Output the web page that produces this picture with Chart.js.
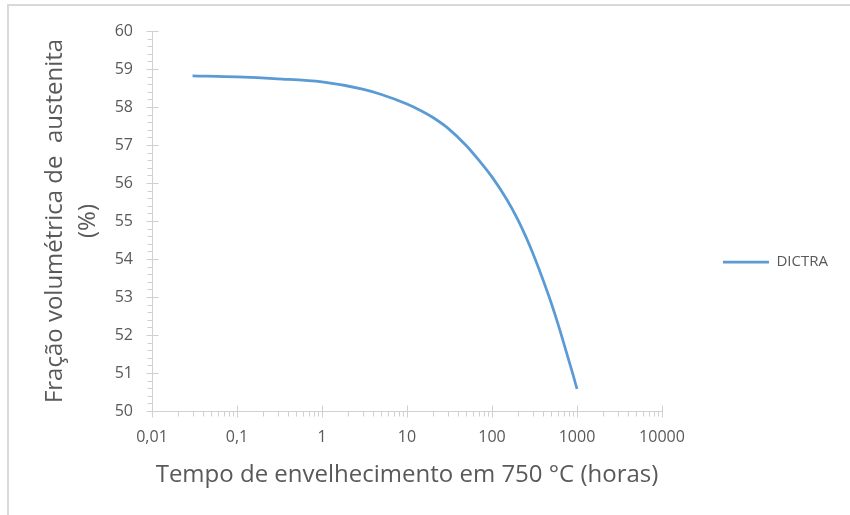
<!DOCTYPE html>
<html>
<head>
<meta charset="utf-8">
<script src="https://cdn.jsdelivr.net/npm/chart.js@4.4.1/dist/chart.umd.min.js"></script>
<style>
  html, body { margin: 0; padding: 0; background: #fff; overflow: hidden; }
  #wrap { position: relative; width: 850px; height: 515px; }
  #frame { position: absolute; left: 7px; top: 4px; width: 870px; height: 540px;
           border: 2px solid #d9d9d9; box-sizing: border-box; }
  #c { position: absolute; left: 0; top: 0; }
</style>
</head>
<body>
<div id="wrap">
  <div id="frame"></div>
  <canvas id="c" width="850" height="515"></canvas>
</div>
<script>
// Aging time at 750 °C (hours) and austenite volume fraction (%) computed by DICTRA
const hours = [0.03, 0.1, 0.3, 1, 3, 5, 10, 15, 20, 30, 50, 70, 100, 150, 200, 250, 300, 400, 500, 600, 700, 800, 900, 1000];
const austenite = [58.82, 58.79, 58.74, 58.66, 58.47, 58.33, 58.08, 57.89, 57.73, 57.45, 56.98, 56.6, 56.16,
                   55.56, 55.05, 54.59, 54.17, 53.44, 52.83, 52.28, 51.78, 51.34, 50.95, 50.58];
const seriesName = 'DICTRA';

// Axis ticks
const xTickValues = [0.01, 0.1, 1, 10, 100, 1000, 10000];
const xTickLabels = ['0,01', '0,1', '1', '10', '100', '1000', '10000'];
const yMin = 50, yMax = 60, yStep = 1, yMinorStep = 0.2;

const FONT = "'Open Sans', 'DejaVu Sans', sans-serif";
const TEXT = '#595959';
const AXIS = '#d0d0d0';
const LINE = '#5b9bd5';

// Axis lines with Excel-style tick marks: major ticks cross the axis, minor ticks sit outside
const axisTicks = {
  id: 'axisTicks',
  afterDatasetsDraw(chart) {
    const { ctx } = chart;
    const xs = chart.scales.x, ys = chart.scales.y;
    const x0 = Math.round(xs.getPixelForValue(xs.min)) + 0.5;
    const y0 = Math.round(ys.getPixelForValue(ys.min)) + 0.5;
    ctx.save();
    ctx.strokeStyle = AXIS;
    ctx.lineWidth = 1;
    ctx.beginPath();
    ctx.moveTo(x0, Math.round(ys.top)); ctx.lineTo(x0, y0);
    ctx.moveTo(x0, y0); ctx.lineTo(Math.round(xs.right) + 0.5, y0);
    xTickValues.forEach((v, i) => {
      const px = Math.round(xs.getPixelForValue(v)) + 0.5;
      ctx.moveTo(px, y0 - 6); ctx.lineTo(px, y0 + 6);
      if (i < xTickValues.length - 1) {
        for (let k = 2; k <= 9; k++) {
          const mx = Math.round(xs.getPixelForValue(v * k)) + 0.5;
          ctx.moveTo(mx, y0); ctx.lineTo(mx, y0 + 5);
        }
      }
    });
    const nMinor = Math.round((yMax - yMin) / yMinorStep);
    for (let j = 0; j <= nMinor; j++) {
      const v = yMin + j * yMinorStep;
      const py = Math.round(ys.getPixelForValue(v)) + 0.5;
      if (j % Math.round(yStep / yMinorStep) === 0) {
        ctx.moveTo(x0 - 6, py); ctx.lineTo(x0 + 6, py);
      } else {
        ctx.moveTo(x0 - 5, py); ctx.lineTo(x0, py);
      }
    }
    ctx.stroke();
    ctx.restore();
  }
};

new Chart(document.getElementById('c'), {
  type: 'line',
  data: {
    datasets: [{
      label: seriesName,
      data: hours.map((h, i) => ({ x: h, y: austenite[i] })),
      borderColor: LINE,
      backgroundColor: LINE,
      borderWidth: 2.75,
      pointRadius: 0,
      pointHoverRadius: 0,
      cubicInterpolationMode: 'monotone',
      fill: false
    }]
  },
  options: {
    responsive: false,
    devicePixelRatio: 1,
    animation: false,
    events: [],
    layout: { padding: { top: 31, right: 12, bottom: 22, left: 0 } },
    plugins: {
      tooltip: { enabled: false },
      legend: {
        position: 'right',
        align: 'center',
        labels: {
          color: TEXT,
          font: { family: FONT, size: 15 },
          usePointStyle: true,
          pointStyle: 'line',
          pointStyleWidth: 46,
          boxHeight: 3,
          padding: 61
        }
      }
    },
    scales: {
      x: {
        type: 'logarithmic',
        min: xTickValues[0],
        max: xTickValues[xTickValues.length - 1],
        afterBuildTicks: s => { s.ticks = xTickValues.map(v => ({ value: v, major: true })); },
        afterFit: s => { s.height = 82; },
        grid: { display: false, drawTicks: false },
        border: { display: false },
        ticks: {
          autoSkip: false,
          maxRotation: 0,
          padding: 17,
          color: TEXT,
          font: { family: FONT, size: 16 },
          callback: v => xTickLabels[xTickValues.indexOf(v)]
        },
        title: {
          display: true,
          text: 'Tempo de envelhecimento em 750 °C (horas)',
          color: TEXT,
          font: { family: FONT, size: 24 },
          padding: { top: 0, bottom: 3 }
        }
      },
      y: {
        min: yMin,
        max: yMax,
        afterFit: s => { s.width = 152; },
        grid: { display: false, drawTicks: false },
        border: { display: false },
        ticks: {
          stepSize: yStep,
          padding: 19,
          color: TEXT,
          font: { family: FONT, size: 16 }
        },
        title: {
          display: true,
          text: ['Fração volumétrica de  austenita', '(%)'],
          color: TEXT,
          font: { family: FONT, size: 24, lineHeight: 1.4 },
          padding: { top: 38, bottom: 0 }
        }
      }
    }
  },
  plugins: [axisTicks]
});
</script>
</body>
</html>
